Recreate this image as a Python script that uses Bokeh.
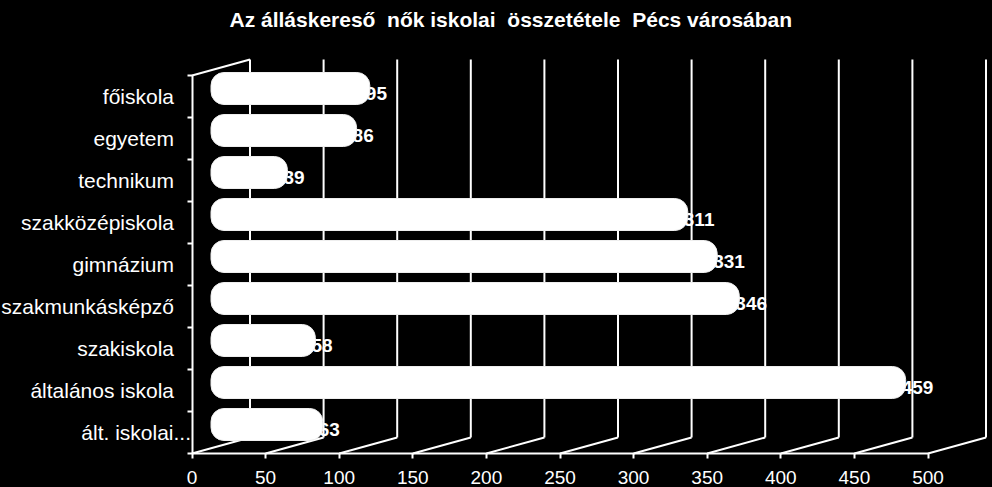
from bokeh.plotting import figure
from bokeh.models import Range1d, FixedTicker, LinearAxis, ColumnDataSource
from bokeh.core.properties import value as pv
from bokeh.embed import file_html
from bokeh.resources import INLINE

title = "Az álláskereső\u00a0 nők iskolai\u00a0 összetétele\u00a0 Pécs városában"
categories = ["ált. iskolai...", "általános iskola", "szakiskola", "szakmunkásképző", "gimnázium",
              "szakközépiskola", "technikum", "egyetem", "főiskola"]
values = [63, 459, 58, 346, 331, 311, 39, 86, 95]
x_ticks = [0, 50, 100, 150, 200, 250, 300, 350, 400, 450, 500]

FONT = "Liberation Sans"
PX = 1.472          # px per value unit
ROW = 42.0          # px per row
DX = 58 / PX        # depth of the 3D wall in x
DY = 16 / ROW       # depth of the 3D wall in y
X0 = 191.5          # pixel of value 0
TOP = 30            # px above frame (title panel)
BOTTOM = 34         # px from value axis to page bottom

rows = [i + 0.5 for i in range(len(categories))]
n = len(categories)

p = figure(width=992, height=487, output_backend="svg", toolbar_location=None,
           x_range=Range1d(-X0 / PX, (992 - X0) / PX),
           y_range=Range1d(-BOTTOM / ROW, (487 - TOP - BOTTOM) / ROW),
           background_fill_color="black", border_fill_color="black", outline_line_color=None,
           x_axis_location=None, y_axis_location=None,
           min_border_left=0, min_border_right=0, min_border_bottom=0, min_border_top=TOP)
p.styles = {"background-color": "black"}
p.grid.visible = False

p.title.text = title
p.title.text_color = "white"
p.title.text_font = FONT
p.title.text_font_size = "21px"
p.title.text_font_style = "bold"
p.title.align = "left"
p.title.offset = 229
p.title.standoff = 0

xa = LinearAxis(fixed_location=0)
xa.ticker = FixedTicker(ticks=x_ticks)
xa.bounds = (0, 500)
xa.axis_line_color = "white"; xa.axis_line_width = 2
xa.major_tick_line_color = "white"; xa.major_tick_line_width = 2
xa.major_tick_out = 5; xa.major_tick_in = 0
xa.minor_tick_line_color = None
xa.major_label_text_color = "white"
xa.major_label_text_font = FONT
xa.major_label_text_font_size = "19px"
xa.major_label_standoff = 12
p.add_layout(xa, "below")

ya = LinearAxis(fixed_location=0)
ya.ticker = FixedTicker(ticks=rows[1:], minor_ticks=list(range(n + 1)))
ya.bounds = (0, n)
ya.axis_line_color = "white"; ya.axis_line_width = 2
ya.major_tick_line_color = None
ya.minor_tick_line_color = "white"; ya.minor_tick_line_width = 2
ya.minor_tick_out = 5; ya.minor_tick_in = 0
ya.major_label_overrides = {r: c for r, c in zip(rows[1:], categories[1:])}
ya.major_label_text_color = "white"
ya.major_label_text_font = FONT
ya.major_label_text_font_size = "21px"
ya.major_label_standoff = 12
p.add_layout(ya, "left")

# category whose label sits closer to the axis
p.text(x=[0], y=[rows[0]], text=[categories[0]], x_offset=-1, text_align="right",
       text_baseline="middle", text_color="white", text_font=pv(FONT), text_font_size="21px")

# 3D walls
p.segment(x0=[t + DX for t in x_ticks], x1=[t + DX for t in x_ticks],
          y0=[DY] * len(x_ticks), y1=[n + DY] * len(x_ticks), line_color="white", line_width=2)
p.segment(x0=x_ticks, x1=[t + DX for t in x_ticks], y0=[0] * len(x_ticks), y1=[DY] * len(x_ticks),
          line_color="white", line_width=2)
p.segment(x0=[0], x1=[DX], y0=[n], y1=[n + DY], line_color="white", line_width=2)

# value labels sit under the bars
src = ColumnDataSource(dict(
    left=[19 / PX] * n, right=[v + 38 / PX for v in values],
    y=[r + 8 / ROW for r in rows], lx=[v + 34 / PX for v in values],
    ly=[r + 3.5 / ROW for r in rows], txt=[str(v) for v in values]))
p.text(x="lx", y="ly", text="txt", source=src, text_color="white", text_font=pv(FONT),
       text_font_size="19px", text_font_style="bold", text_align="left", text_baseline="middle")
p.hbar(y="y", left="left", right="right", height=32 / ROW, source=src, fill_color="white",
       line_color="#eeeeee", line_width=1, border_radius=13)

open("out.html", "w").write(file_html(p, INLINE))
